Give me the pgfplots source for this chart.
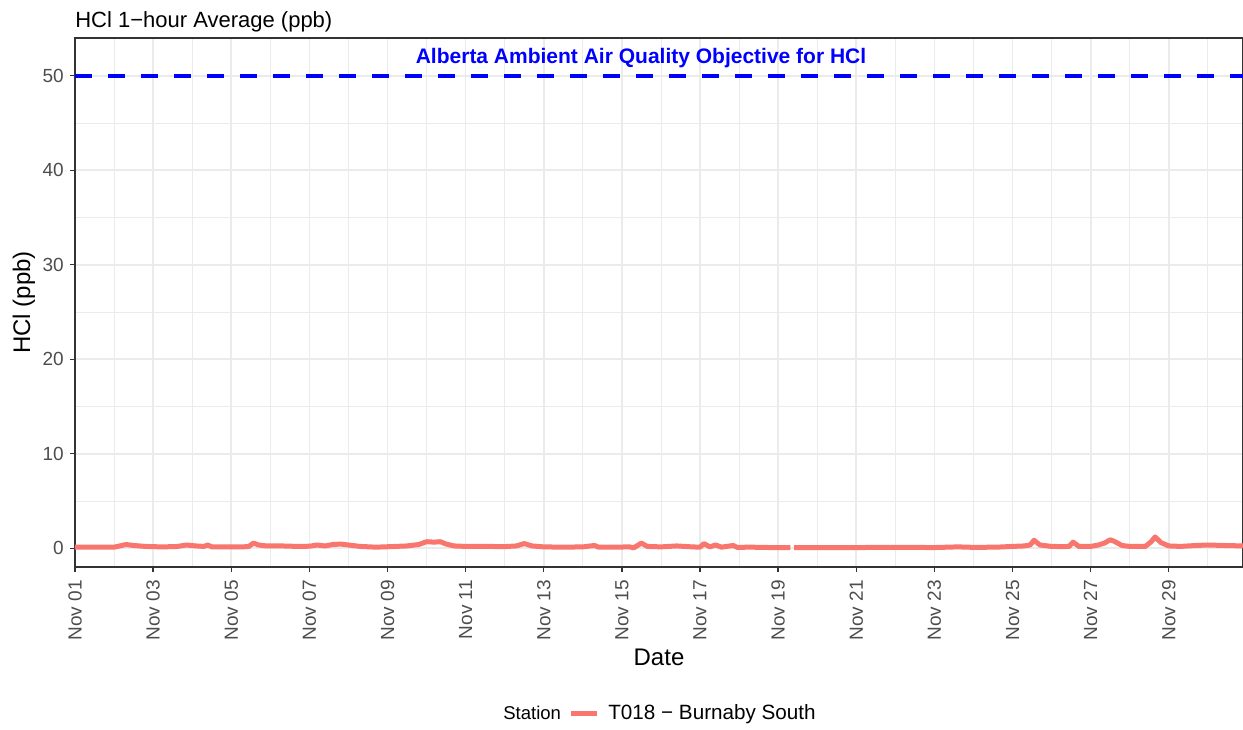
\documentclass[border=0pt]{standalone}
\usepackage{fontspec}
\setmainfont{Liberation Sans}
\usepackage{pgfplots}
\pgfplotsset{compat=1.18}
\definecolor{gg}{HTML}{F8766D}
\definecolor{gridc}{HTML}{EBEBEB}
\definecolor{g20}{HTML}{333333}
\definecolor{g30}{HTML}{4D4D4D}
\begin{document}
\begin{tikzpicture}
\useasboundingbox (-45pt,-97.2pt) rectangle (700.8pt,340.2pt);
\begin{axis}[
  at={(0,0)}, anchor=south west,
  scale only axis, width=700.8pt, height=317.4pt,
  xmin=0, xmax=29.9, ymin=-1.98, ymax=54.0,
  axis line style={g20, line width=0.8pt},
  xtick={0,2,...,28},
  xticklabels={Nov 01,Nov 03,Nov 05,Nov 07,Nov 09,Nov 11,Nov 13,Nov 15,Nov 17,Nov 19,Nov 21,Nov 23,Nov 25,Nov 27,Nov 29},
  minor xtick={1,3,...,29},
  ytick={0,10,...,50},
  minor ytick={5,15,...,45},
  grid=both,
  major grid style={gridc, line width=1pt},
  minor grid style={gridc, line width=0.5pt},
  tick align=outside,
  major tick length=3pt,
  minor tick length=0pt,
  tick style={g20, line width=0.8pt},
  xtick pos=left, ytick pos=left,
  /pgf/number format/assume math mode=true,
  ticklabel style={font=\fontsize{11.4}{13}\selectfont, text=g30},
  xticklabel style={yshift=-4.8pt, rotate=90, anchor=east, inner sep=0pt},
  yticklabel style={anchor=east, inner sep=0pt, xshift=-3.6pt},
  xlabel={Date},
  xlabel style={at={(axis description cs:0.5,-0.170)}, anchor=center, font=\fontsize{14.4}{16}\selectfont},
  ylabel={HCl (ppb)},
  ylabel style={at={(axis description cs:-0.04366,0.5)}, anchor=center, font=\fontsize{14.4}{16}\selectfont},
  legend style={at={(axis description cs:0.4221,-0.276)}, anchor=west, draw=none, fill=none, inner sep=0pt,
    font=\fontsize{12.4}{14}\selectfont, nodes={inner sep=0pt},
    /tikz/every odd column/.append style={column sep=5.4pt}},
  legend image code/.code={\draw[#1, line cap=butt] (0pt,0pt) -- (15.6pt,0pt);},
]
\addplot[gg, line width=3pt, line join=round, unbounded coords=jump] coordinates {
(0,0.12) (0.5,0.12) (1.0,0.12) (1.2,0.3) (1.3,0.4) (1.5,0.3) (1.8,0.2) (2.2,0.15) (2.6,0.18) (2.85,0.35)
(3.1,0.25) (3.3,0.2) (3.4,0.35) (3.5,0.15) (3.9,0.15) (4.3,0.15) (4.45,0.2) (4.57,0.55) (4.7,0.35) (4.9,0.25)
(5.3,0.25) (5.7,0.2) (6.0,0.22) (6.2,0.35) (6.4,0.25) (6.6,0.4) (6.8,0.45) (7.0,0.35) (7.3,0.2) (7.7,0.12)
(8.1,0.18) (8.5,0.25) (8.8,0.4) (9.0,0.7) (9.2,0.65) (9.35,0.7) (9.5,0.45) (9.7,0.25) (10.0,0.2) (10.5,0.2)
(11.0,0.18) (11.3,0.25) (11.5,0.5) (11.7,0.25) (12.0,0.15) (12.5,0.12) (13.0,0.15) (13.3,0.3) (13.4,0.12) (13.8,0.12)
(14.2,0.15) (14.3,0.05) (14.5,0.55) (14.65,0.2) (15.0,0.15) (15.4,0.25) (15.8,0.15) (16.0,0.12) (16.1,0.5) (16.25,0.15)
(16.4,0.35) (16.55,0.12) (16.85,0.3) (16.95,0.1) (17.3,0.12) (17.8,0.08) (18.31,0.07)
(18.36,nan)
(18.41,0.08) (19,0.08) (20,0.08) (21,0.1) (22,0.08) (22.6,0.15) (23,0.1) (23.6,0.12) (24.0,0.2) (24.3,0.25)
(24.45,0.35) (24.55,0.85) (24.7,0.35) (25.0,0.2) (25.3,0.18) (25.45,0.2) (25.55,0.65) (25.7,0.2) (26.0,0.2) (26.2,0.35)
(26.35,0.55) (26.5,0.9) (26.6,0.75) (26.8,0.3) (27.0,0.2) (27.4,0.2) (27.55,0.7) (27.65,1.2) (27.8,0.6) (28.0,0.25)
(28.3,0.2) (28.7,0.3) (29.0,0.35) (29.4,0.3) (29.9,0.25)
};
\addlegendentry{T018 − Burnaby South}
\addplot[blue, line width=2.3pt, dash pattern=on 10.2pt off 9.6pt, forget plot] coordinates {(0,50) (29.9,50)};
\node[font=\bfseries\fontsize{12.6}{14}\selectfont, text=blue, anchor=base] at (axis cs:14.49,51.27) {Alberta Ambient Air Quality Objective for HCl};
\end{axis}
\node[anchor=base west, inner sep=0pt, font=\fontsize{13.2}{15}\selectfont] at (0pt,323.7pt) {HCl 1−hour Average (ppb)};
\node[anchor=west, inner sep=0pt, font=\fontsize{11.1}{13}\selectfont] at (256.8pt,-87.6pt) {Station};
\end{tikzpicture}
\end{document}
